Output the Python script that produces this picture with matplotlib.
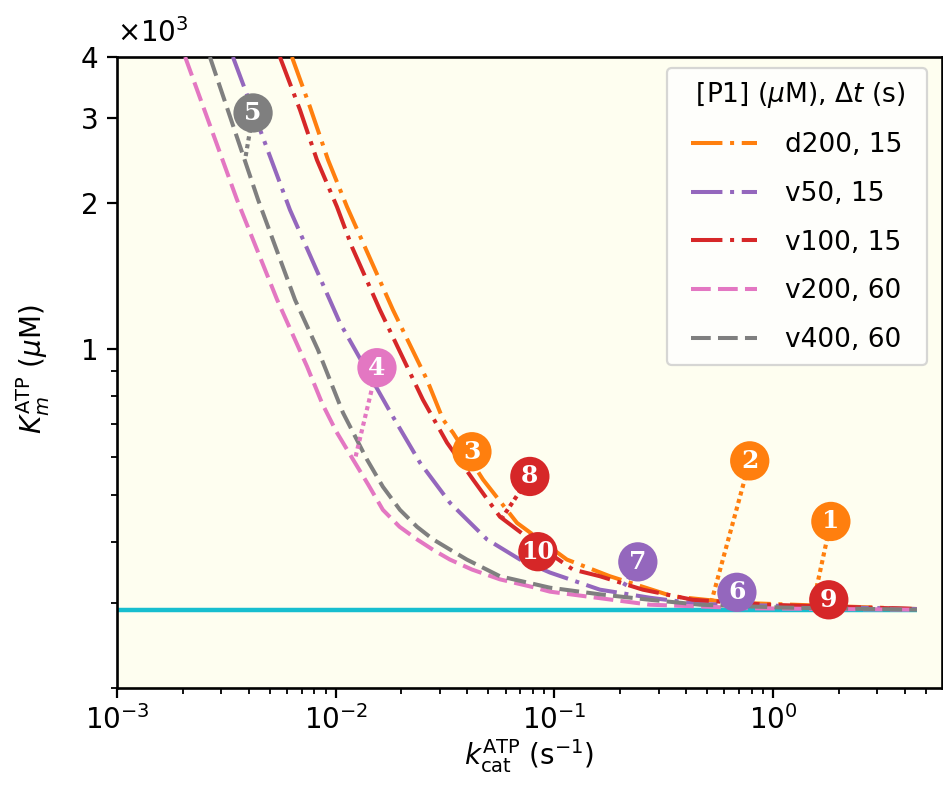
import matplotlib
matplotlib.use('Agg')
import matplotlib.pyplot as plt
from matplotlib.ticker import FixedLocator, NullFormatter, LogLocator, LogFormatterSciNotation

plt.rcParams['font.family'] = ['DejaVu Sans']
plt.rcParams['mathtext.fontset'] = 'dejavusans'

# ---------------- data ----------------
series_labels = ['d200, 15', 'v50, 15', 'v100, 15', 'v200, 60', 'v400, 60']
series_colors = ['#ff7f0e', '#9467bd', '#d62728', '#e377c2', '#7f7f7f']

d200_x = [0.00631, 0.00763, 0.00923, 0.01127, 0.01828, 0.02616, 0.0310, 0.0344, 0.0472, 0.0675, 0.1142, 0.1795, 0.3483, 0.656, 4.55]
d200_y = [4000, 3156, 2454, 1964, 1204, 864, 715, 672, 538, 438, 368, 340, 309, 300, 291]

v50_x = [0.00339, 0.00618, 0.01046, 0.01828, 0.0243, 0.0333, 0.0492, 0.0697, 0.0955, 0.1616, 0.2735, 0.4634, 4.55]
v50_y = [4000, 1936, 1132, 725, 583, 482, 405, 368, 346, 319, 307, 298, 291]

v100_x = [0.00556, 0.00687, 0.00821, 0.01014, 0.01187, 0.01594, 0.02506, 0.0323, 0.0425, 0.0564, 0.0859, 0.1216, 0.1616, 0.254, 0.4305, 0.938, 4.55]
v100_y = [4000, 3111, 2454, 1964, 1624, 1204, 786, 641, 538, 451, 391, 351, 340, 319, 304, 297, 291]

v200_x = [0.00205, 0.00354, 0.00540, 0.00740, 0.00870, 0.01010, 0.0120, 0.0141, 0.01644, 0.0196, 0.02355, 0.0280, 0.0333, 0.0420, 0.0564, 0.0795, 0.0955, 0.2735, 0.783, 4.55]
v200_y = [4000, 2030, 1263, 920, 770, 674, 592, 525, 466, 430, 405, 385, 368, 351, 335, 323, 316, 297, 292, 290]

v400_x = [0.00266, 0.00442, 0.00652, 0.00830, 0.0108, 0.0139, 0.01644, 0.01968, 0.02355, 0.0279, 0.0333, 0.0398, 0.0564, 0.0955, 0.1616, 0.2735, 0.4634, 1.11, 4.55]
v400_y = [4000, 2030, 1263, 996, 739, 592, 520, 466, 430, 405, 386, 368, 340, 322, 312, 304, 297, 293, 290]

floor_x = [0.001, 4.55]
floor_y = [289, 289]

ann_labels = ['1', '2', '3', '4', '5', '6', '7', '8', '9', '10']
ann_series = [0, 0, 0, 3, 4, 1, 1, 2, 2, 2]
ann_x = [1.84, 0.783, 0.0420, 0.01545, 0.00419, 0.684, 0.241, 0.0773, 1.80, 0.0841]
ann_y = [441, 588, 614, 915, 3067, 315, 364, 546, 304, 382]
lead_x = [1.52, 0.5255, None, 0.01225, 0.00385, None, 0.206, 0.0582, None, None]
lead_y = [296, 304, None, 592, 2454, None, 322, 451, None, None]

ytick_vals = [1000, 2000, 3000, 4000]
ytick_labels = ['1', '2', '3', '4']
yminor_vals = [200, 300, 400, 500, 600, 700, 800, 900]

# ---------------- figure ----------------
W, H = 943, 789
fig = plt.figure(figsize=(W / 100, H / 100), dpi=100)
ax = fig.add_axes([117 / W, 1 - 688 / H, (942 - 117) / W, (688 - 57) / H])
ax.set_facecolor('#fefef0')

lw = 2.9
dashdot = (0, (7.8, 1.9, 1.0, 1.9))
dashed = (0, (4.9, 1.8))
styles = [dashdot, dashdot, dashdot, dashed, dashed]

ax.plot(floor_x, floor_y, color='#17becf', lw=3.2, solid_capstyle='butt', zorder=2)

xs = [d200_x, v50_x, v100_x, v200_x, v400_x]
ys = [d200_y, v50_y, v100_y, v200_y, v400_y]
for x, y, c, ls, lab in zip(xs, ys, series_colors, styles, series_labels):
    ax.plot(x, y, color=c, lw=lw, linestyle=ls, label=lab, zorder=3)

# numbered markers with dotted leaders
for lab, si, x, y, lx, ly in zip(ann_labels, ann_series, ann_x, ann_y, lead_x, lead_y):
    c = series_colors[si]
    if lx is not None:
        ax.plot([x, lx], [y, ly], color=c, lw=3.0, linestyle=(0, (1.0, 0.9)), zorder=4)
    ax.scatter([x], [y], s=800, color=c, edgecolors='none', zorder=5)
    ax.text(x, y, lab, color='white', ha='center', va='center',
            fontsize=18 if len(lab) == 1 else 17, fontweight='bold',
            family='DejaVu Serif', zorder=6)

ax.set_xscale('log')
ax.set_yscale('log')
ax.set_xlim(1e-3, 5.93)
ax.set_ylim(200, 4000)

ax.yaxis.set_major_locator(FixedLocator(ytick_vals))
ax.set_yticklabels(ytick_labels)
ax.yaxis.set_minor_locator(FixedLocator(yminor_vals))
ax.yaxis.set_minor_formatter(NullFormatter())

ax.xaxis.set_major_locator(LogLocator(base=10, numticks=10))
ax.xaxis.set_major_formatter(LogFormatterSciNotation())
ax.xaxis.set_minor_locator(LogLocator(base=10, subs=range(2, 10), numticks=20))
ax.xaxis.set_minor_formatter(NullFormatter())

ax.tick_params(which='major', length=7.5, width=1.6, labelsize=20, pad=5)
ax.tick_params(axis='y', which='major', pad=6)
ax.tick_params(which='minor', length=4.5, width=1.3)
for sp in ax.spines.values():
    sp.set_linewidth(1.9)

ax.text(0.0, 1.015, r'$\times10^{3}$', transform=ax.transAxes, ha='left', va='bottom', fontsize=20)

ax.set_ylabel(r'$K_m^{\rm ATP}$ ($\mu$M)', fontsize=20)
ax.yaxis.set_label_coords(-0.079, 0.505)
ax.set_xlabel(r'$k_{\rm cat}^{\rm ATP}$ (s$^{-1}$)', fontsize=20, labelpad=1)

leg = ax.legend(title='  ' + r'[P1] ($\mu$M), $\Delta t$ (s)' + '  ', loc='upper right',
                fontsize=19, title_fontsize=19, handlelength=2.5, handletextpad=1.05,
                labelspacing=0.86, borderpad=0.45, bbox_to_anchor=(0.982, 0.983),
                borderaxespad=0, framealpha=0.8, edgecolor='#cccccc', fancybox=True)
leg.get_frame().set_linewidth(1.6)

fig.savefig('out.png', dpi=100)
